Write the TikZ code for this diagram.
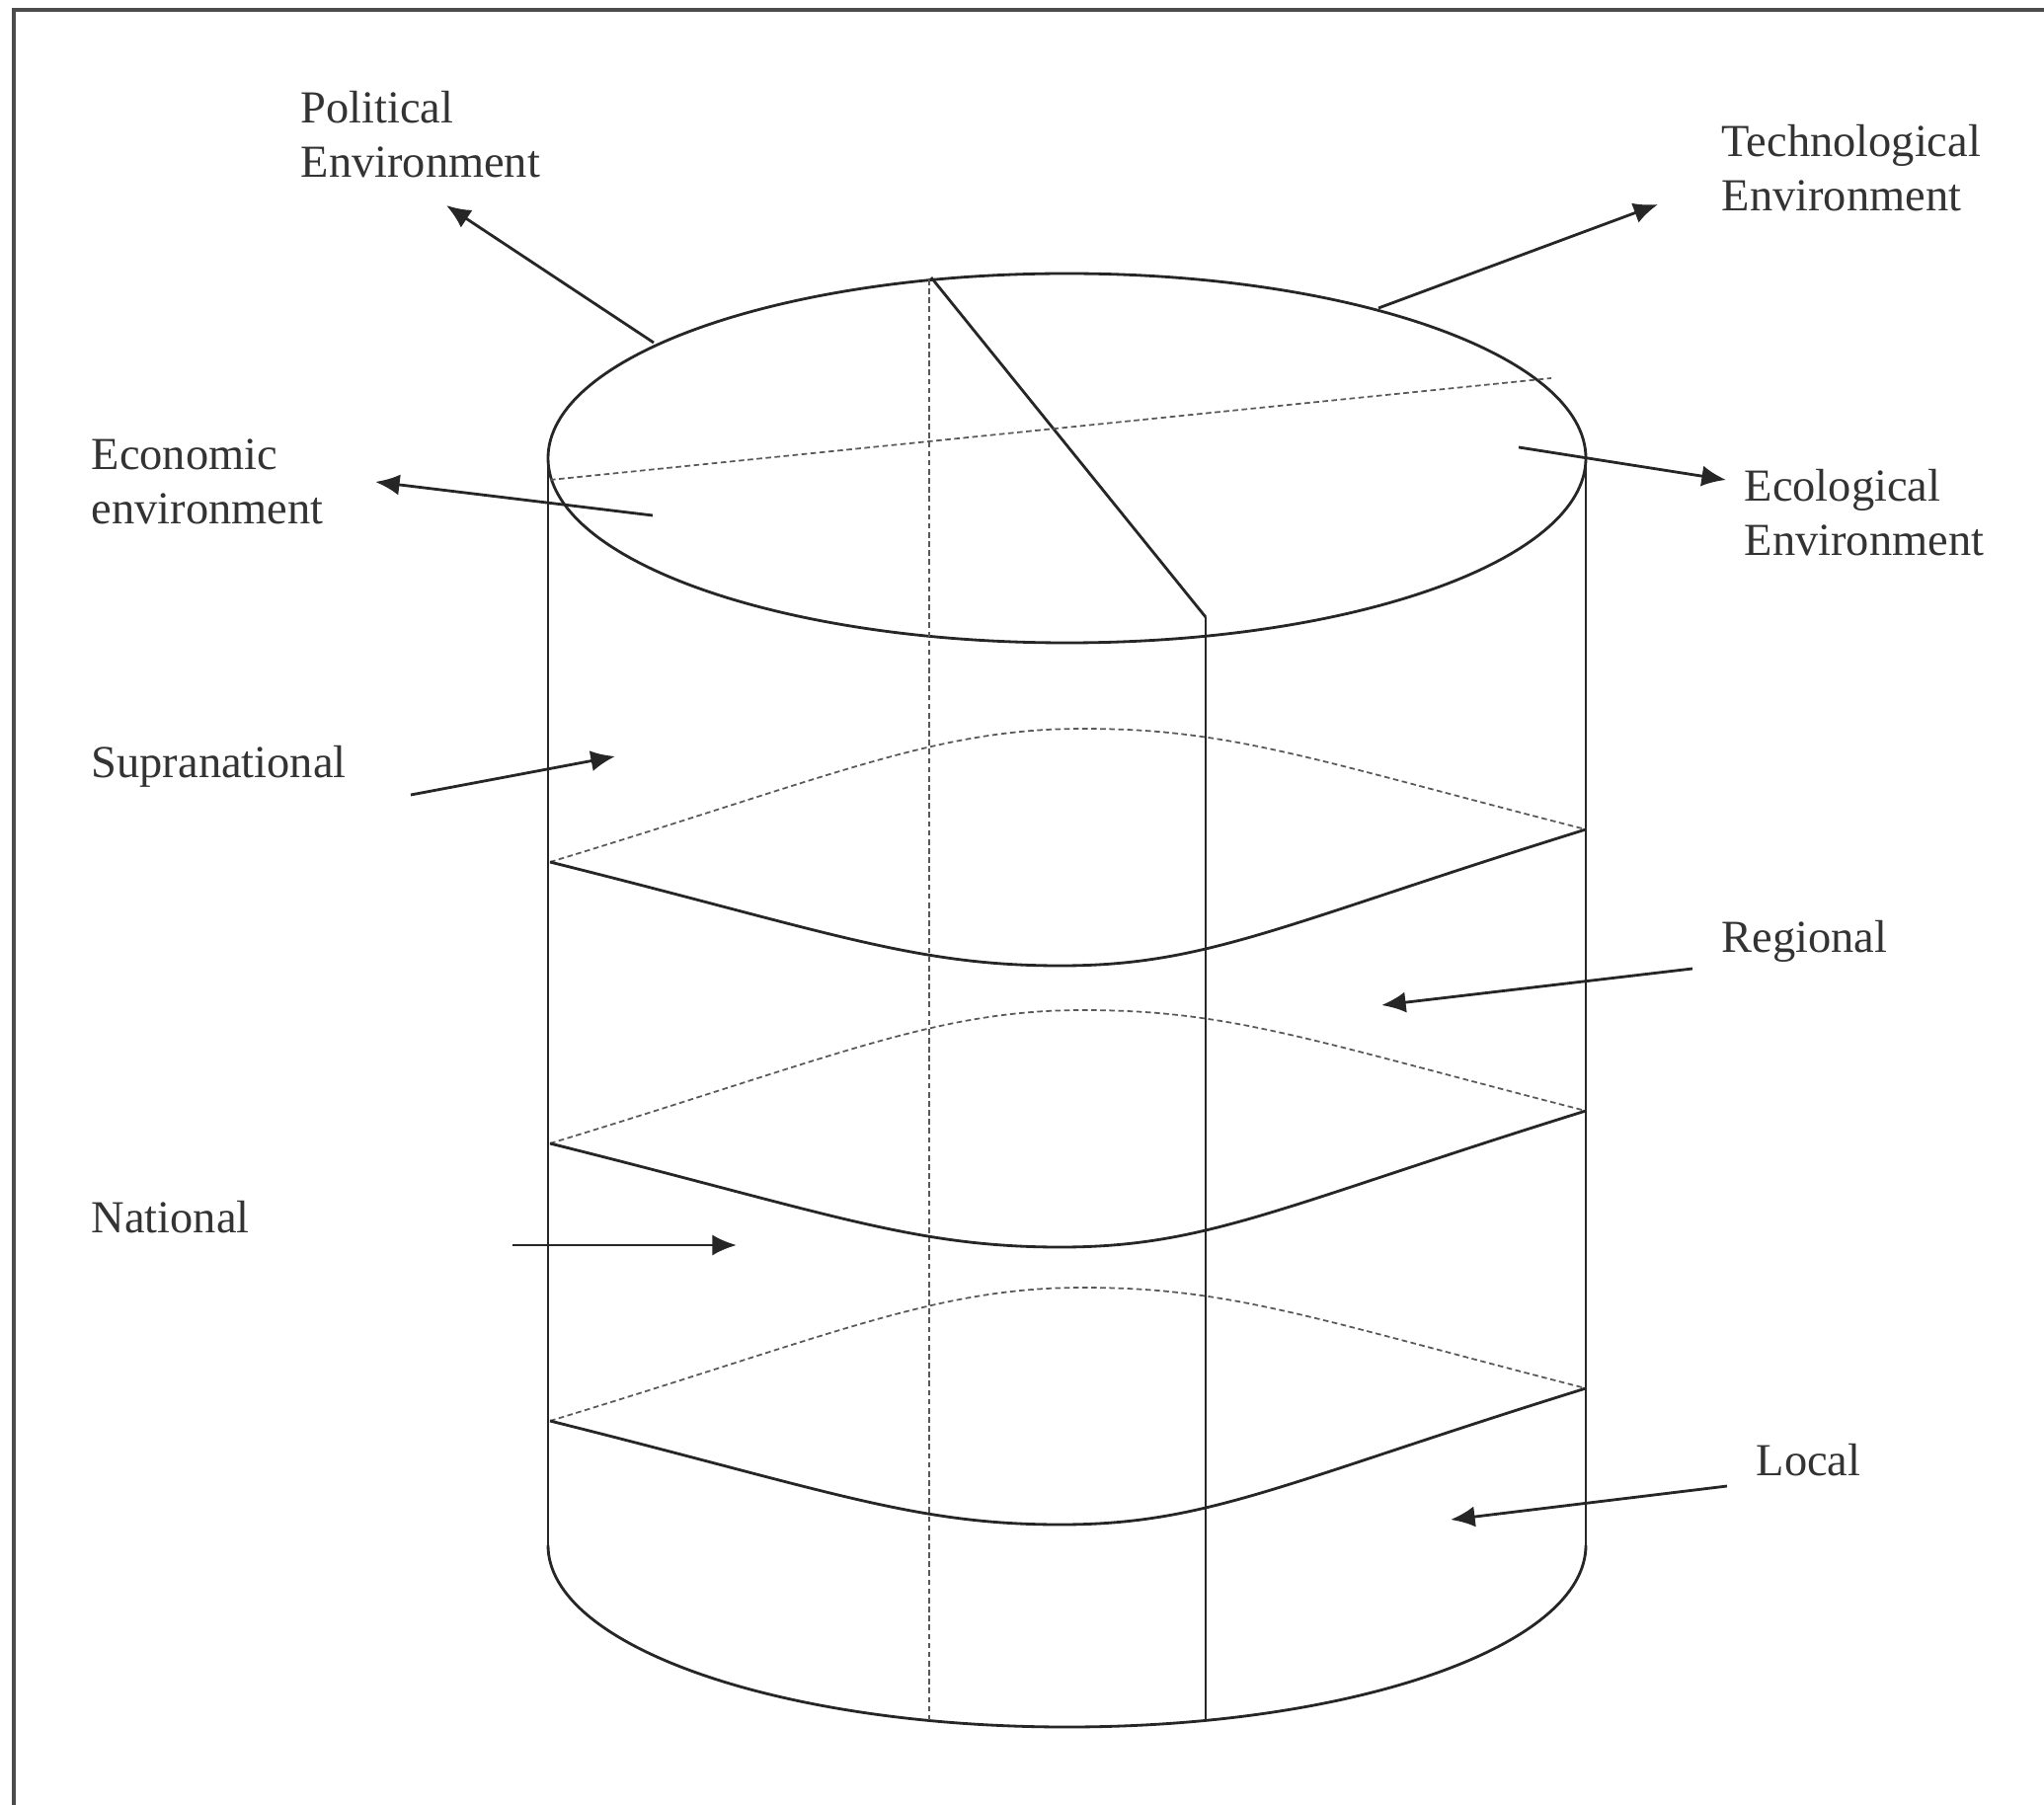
\documentclass[tikz,border=0pt]{standalone}
\usepackage{fontspec}
\setmainfont{Liberation Serif}
\usetikzlibrary{arrows.meta}
\newcommand\lensLayer[2]{%
  \begin{scope}[shift={(0,#1)}]
    \draw[hidden] (557,873) coordinate (#2L) .. controls (847,785) and (947,738) .. (1097,738)
                  .. controls (1247,738) and (1325,768) .. (1606,840) coordinate (#2R);
    \draw[outline] (#2L) .. controls (838,943) and (924,978) .. (1074,978)
                  .. controls (1224,978) and (1300,935) .. (#2R);
  \end{scope}}
\begin{document}
\begin{tikzpicture}[x=0.01cm,y=-0.01cm,
  lbl/.style={font=\fontsize{13.2}{15.8}\selectfont, text=black!80, align=left, inner sep=0pt, anchor=west},
  arr/.style={line width=0.8pt, black!85, -{Latex[length=7pt,width=6pt]}},
  outline/.style={line width=0.8pt, black!85},
  side/.style={line width=0.55pt, black!85},
  hidden/.style={line width=0.5pt, black!65, dash pattern=on 1.6pt off 1pt},
  frameline/.style={line width=1.1pt, black!70}]
\useasboundingbox (0,0) rectangle (2070,1828);
% frame
\draw[frameline] (14,1828) -- (14,10) -- (2070,10);
% cylinder
\coordinate (topC) at (1080.5,464);
\draw[outline] (topC) ellipse [x radius=525.5, y radius=187];
\draw[side] (555,464) -- (555,1565);
\draw[side] (1606,464) -- (1606,1565);
\draw[outline] (555,1565) .. controls (555,1667) and (790,1749) .. (1080.5,1749)
               .. controls (1371,1749) and (1606,1667) .. (1606,1565);
% inner lines
\coordinate (dTop) at (941,283);
\coordinate (dBot) at (941,1742);
\draw[hidden] (dTop) -- (dBot);
\coordinate (diagA) at (943,281);
\coordinate (diagB) at (1221,625);
\coordinate (sBot) at (1221,1742);
\draw[line width=0.8pt, black!85] (diagA) -- (diagB);
\draw[side] (diagB) -- (sBot);
\coordinate (hA) at (557,486);
\coordinate (hB) at (1571,383);
\draw[hidden] (hA) -- (hB);
% layers
\lensLayer{0}{a}
\lensLayer{285}{b}
\lensLayer{566}{c}
% labels
\node[lbl] (pol) at (304,136) {Political\\Environment};
\node[lbl] (tech) at (1743,170) {Technological\\Environment};
\node[lbl] (eco) at (92,488) {Economic\\environment};
\node[lbl] (ecol) at (1766,519) {Ecological\\Environment};
\node[lbl] (supra) at (92,776) {Supranational};
\node[lbl] (reg) at (1743,953) {Regional};
\node[lbl] (nat) at (92,1233) {National};
\node[lbl] (loc) at (1778,1479) {Local};
% arrows
\coordinate (polT) at (662,347); \coordinate (polH) at (452,208);
\coordinate (techT) at (1396,312); \coordinate (techH) at (1679,207);
\coordinate (ecoT) at (661,522); \coordinate (ecoH) at (380,488);
\coordinate (ecolT) at (1538,453); \coordinate (ecolH) at (1748,486);
\coordinate (supraT) at (416,805); \coordinate (supraH) at (623,766);
\coordinate (regT) at (1714,981); \coordinate (regH) at (1399,1018);
\coordinate (natT) at (519,1261); \coordinate (natH) at (746,1261);
\coordinate (locT) at (1749,1505); \coordinate (locH) at (1469,1539);
\draw[arr] (polT) -- (polH);
\draw[arr] (techT) -- (techH);
\draw[arr] (ecoT) -- (ecoH);
\draw[arr] (ecolT) -- (ecolH);
\draw[arr] (supraT) -- (supraH);
\draw[arr] (regT) -- (regH);
\draw[arr] (natT) -- (natH);
\draw[arr] (locT) -- (locH);
\end{tikzpicture}
\end{document}
